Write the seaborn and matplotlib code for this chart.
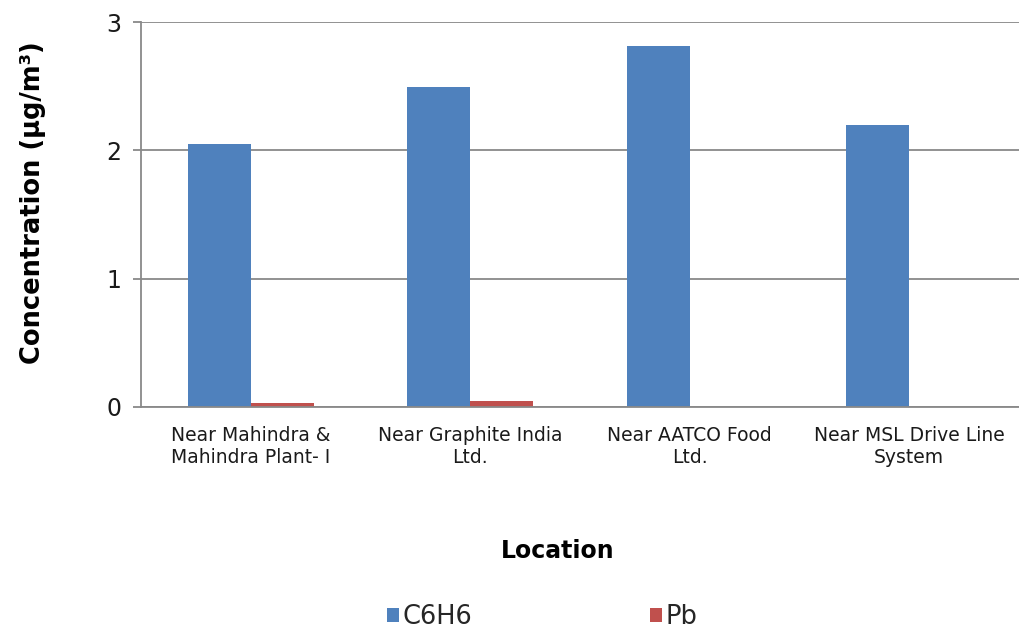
import matplotlib
matplotlib.use("Agg")
import matplotlib.pyplot as plt
import seaborn as sns
import pandas as pd

locations = [
    "Near Mahindra &\nMahindra Plant- I",
    "Near Graphite India\nLtd.",
    "Near AATCO Food\nLtd.",
    "Near MSL Drive Line\nSystem",
]
c6h6 = [2.05, 2.49, 2.81, 2.20]
pb = [0.03, 0.05, 0.0, 0.0]
series = ["C6H6", "Pb"]
colors = ["#4F81BD", "#C0504D"]
y_ticks = [0, 1, 2, 3]

df = pd.DataFrame({
    "Location": locations * 2,
    "Value": c6h6 + pb,
    "Pollutant": [series[0]] * len(locations) + [series[1]] * len(locations),
})

sns.set_theme(style="white")
plt.rcParams["font.family"] = ["DejaVu Sans"]

fig = plt.figure(figsize=(10.19, 6.3), dpi=100)
ax = fig.add_axes([141 / 1019, 1 - 407 / 630, 1 - 141 / 1019, (407 - 22) / 630])

sns.barplot(data=df, x="Location", y="Value", hue="Pollutant",
            palette=colors, width=0.574, gap=0, ax=ax, saturation=1,
            linewidth=0, edgecolor="none", legend=True)

ax.set_ylim(0, 3)
ax.set_yticks(y_ticks)
ax.set_xlim(-0.5, len(locations) - 0.5)
grid_c = "#898989"
ax.yaxis.grid(True, color=grid_c, linewidth=1.3)
ax.set_axisbelow(True)
for side in ["top", "right"]:
    ax.spines[side].set_visible(False)
for side in ["left", "bottom"]:
    ax.spines[side].set_color(grid_c)
    ax.spines[side].set_linewidth(1.3)

ax.tick_params(axis="y", length=6, width=1.3, color=grid_c, labelsize=17,
               labelcolor="#1a1a1a", pad=8, left=True)
ax.tick_params(axis="x", length=0, labelsize=13.5, labelcolor="#1a1a1a", pad=14)

ax.set_xlabel("Location", fontsize=17, fontweight="bold", color="black")
ax.xaxis.set_label_coords((558 - 141) / 878, (407 - 539) / 385)
ax.set_ylabel("Concentration (μg/m³)", fontsize=18.5, fontweight="bold",
              color="black")
ax.yaxis.set_label_coords((46 - 141) / 878, (407 - 203) / 385)

handles, labels = ax.get_legend_handles_labels()
ax.legend_.remove()
fig.legend(handles, labels, loc="center", bbox_to_anchor=(542 / 1019, 1 - 617 / 630),
           ncol=2, frameon=False, fontsize=18.5, handlelength=0.5,
           handleheight=0.5, handletextpad=0.12, columnspacing=6.9,
           borderpad=0.2)

fig.savefig("out.png", dpi=100, facecolor="white")
